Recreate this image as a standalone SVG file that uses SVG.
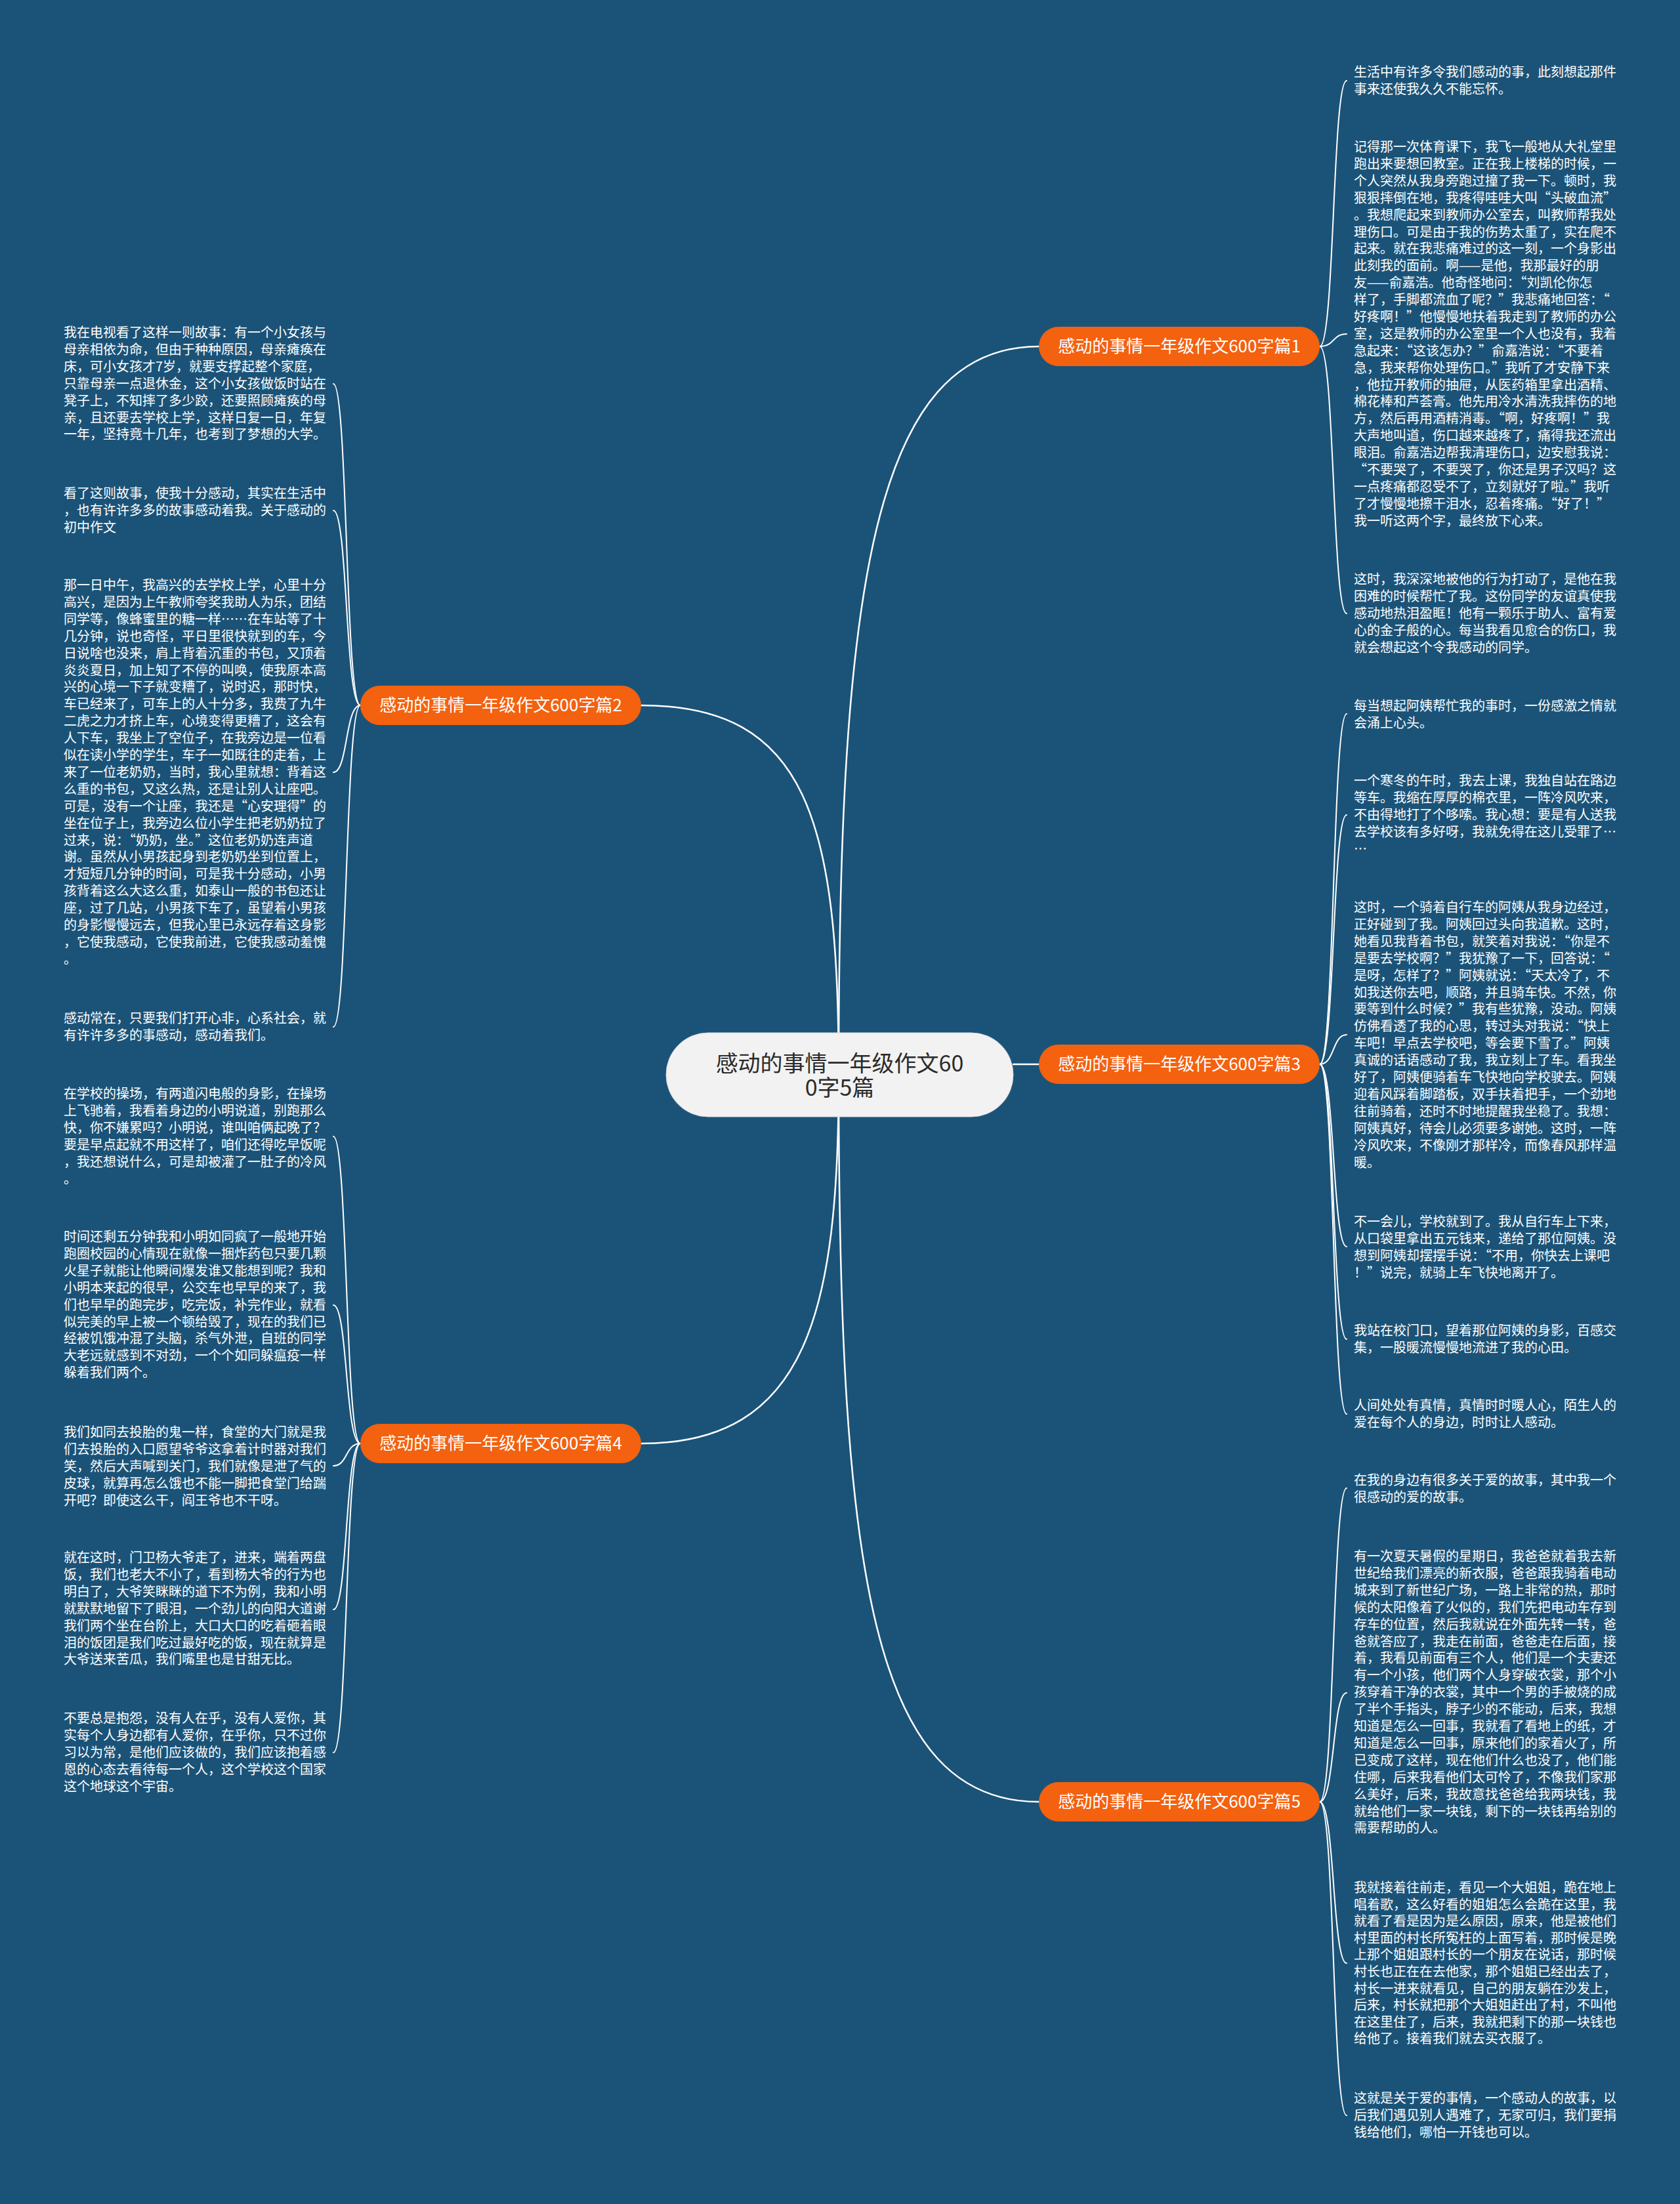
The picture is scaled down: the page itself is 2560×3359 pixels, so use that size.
<svg xmlns="http://www.w3.org/2000/svg" width="2560" height="3359" viewBox="0 0 2560 3359">
<style>
.bg{fill:#1b5378}
.edge{fill:none;stroke:#ffffff;stroke-width:2.5;stroke-linecap:round}
.ledge{fill:none;stroke:#ffffff;stroke-width:2;stroke-linecap:round}
.root{fill:#f2f2f2;stroke:#d9d9d9;stroke-width:1}
.roott{font-family:"Noto Sans CJK SC","Liberation Sans",sans-serif;font-size:34px;fill:#2b2b2b;text-anchor:middle}
.br{fill:#f4610f}
.brt{font-family:"Noto Sans CJK SC","Liberation Sans",sans-serif;font-size:26px;fill:#ffffff;text-anchor:middle}
.leaf{font-family:"Noto Sans CJK SC","Liberation Sans",sans-serif;font-size:20px;fill:#ffffff}
</style>
<rect class="bg" x="0" y="0" width="2560" height="3359"/>

<g id="connectors">
  <path class="edge" d="M1278 1638 C1278 900 1330 528 1583 528"/>
  <path class="edge" d="M1544 1622 L1583 1622"/>
  <path class="edge" d="M1278 1638 C1278 2400 1330 2746 1583 2746"/>
  <path class="edge" d="M1278 1638 C1278 1250 1230 1075 977 1075"/>
  <path class="edge" d="M1278 1638 C1278 2000 1230 2200 977 2200"/>
  <path class="ledge" d="M2011 528 C2034 528 2030 123 2052 123"/>
  <path class="ledge" d="M2011 528 C2034 528 2030 509 2052 509"/>
  <path class="ledge" d="M2011 528 C2034 528 2030 935 2052 935"/>
  <path class="ledge" d="M2011 1622 C2034 1622 2030 1088 2052 1088"/>
  <path class="ledge" d="M2011 1622 C2034 1622 2030 1242 2052 1242"/>
  <path class="ledge" d="M2011 1622 C2034 1622 2030 1577 2052 1577"/>
  <path class="ledge" d="M2011 1622 C2034 1622 2030 1900 2052 1900"/>
  <path class="ledge" d="M2011 1622 C2034 1622 2030 2041 2052 2041"/>
  <path class="ledge" d="M2011 1622 C2034 1622 2030 2155 2052 2155"/>
  <path class="ledge" d="M2011 2746 C2034 2746 2030 2268 2052 2268"/>
  <path class="ledge" d="M2011 2746 C2034 2746 2030 2580 2052 2580"/>
  <path class="ledge" d="M2011 2746 C2034 2746 2030 2992 2052 2992"/>
  <path class="ledge" d="M2011 2746 C2034 2746 2030 3224 2052 3224"/>
  <path class="ledge" d="M549 1075 C526 1075 530 585 508 585"/>
  <path class="ledge" d="M549 1075 C526 1075 530 778 508 778"/>
  <path class="ledge" d="M549 1075 C526 1075 530 1177 508 1177"/>
  <path class="ledge" d="M549 1075 C526 1075 530 1565 508 1565"/>
  <path class="ledge" d="M549 2200 C526 2200 530 1732 508 1732"/>
  <path class="ledge" d="M549 2200 C526 2200 530 1989 508 1989"/>
  <path class="ledge" d="M549 2200 C526 2200 530 2234 508 2234"/>
  <path class="ledge" d="M549 2200 C526 2200 530 2453 508 2453"/>
  <path class="ledge" d="M549 2200 C526 2200 530 2671 508 2671"/>
</g>

<g id="root">
  <rect class="root" x="1015" y="1574" width="529" height="128" rx="64" ry="64"/>
  <text class="roott" x="1279.5" y="1633"><tspan x="1279.5">感动的事情一年级作文60</tspan><tspan x="1279.5" dy="37">0字5篇</tspan></text>
</g>

<g id="branch1">
  <rect class="br" x="1583" y="498" width="428" height="60" rx="30" ry="30"/>
  <text class="brt" x="1797" y="537">感动的事情一年级作文600字篇1</text>
</g>
<g id="branch3">
  <rect class="br" x="1583" y="1592" width="428" height="60" rx="30" ry="30"/>
  <text class="brt" x="1797" y="1631">感动的事情一年级作文600字篇3</text>
</g>
<g id="branch5">
  <rect class="br" x="1583" y="2716" width="428" height="60" rx="30" ry="30"/>
  <text class="brt" x="1797" y="2755">感动的事情一年级作文600字篇5</text>
</g>
<g id="branch2">
  <rect class="br" x="549" y="1045" width="428" height="60" rx="30" ry="30"/>
  <text class="brt" x="763" y="1084">感动的事情一年级作文600字篇2</text>
</g>
<g id="branch4">
  <rect class="br" x="549" y="2170" width="428" height="60" rx="30" ry="30"/>
  <text class="brt" x="763" y="2209">感动的事情一年级作文600字篇4</text>
</g>

<g id="leaf1a"><text class="leaf" x="2063" y="117"><tspan x="2063">生活中有许多令我们感动的事，此刻想起那件</tspan><tspan x="2063" dy="25.9">事来还使我久久不能忘怀。</tspan></text></g>

<g id="leaf1b"><text class="leaf" x="2063" y="231"><tspan x="2063">记得那一次体育课下，我飞一般地从大礼堂里</tspan><tspan x="2063" dy="25.9">跑出来要想回教室。正在我上楼梯的时候，一</tspan><tspan x="2063" dy="25.9">个人突然从我身旁跑过撞了我一下。顿时，我</tspan><tspan x="2063" dy="25.9">狠狠摔倒在地，我疼得哇哇大叫“头破血流”</tspan><tspan x="2063" dy="25.9">。我想爬起来到教师办公室去，叫教师帮我处</tspan><tspan x="2063" dy="25.9">理伤口。可是由于我的伤势太重了，实在爬不</tspan><tspan x="2063" dy="25.9">起来。就在我悲痛难过的这一刻，一个身影出</tspan><tspan x="2063" dy="25.9">此刻我的面前。啊——是他，我那最好的朋</tspan><tspan x="2063" dy="25.9">友——俞嘉浩。他奇怪地问：“刘凯伦你怎</tspan><tspan x="2063" dy="25.9">样了，手脚都流血了呢？”我悲痛地回答：“</tspan><tspan x="2063" dy="25.9">好疼啊！”他慢慢地扶着我走到了教师的办公</tspan><tspan x="2063" dy="25.9">室，这是教师的办公室里一个人也没有，我着</tspan><tspan x="2063" dy="25.9">急起来：“这该怎办？”俞嘉浩说：“不要着</tspan><tspan x="2063" dy="25.9">急，我来帮你处理伤口。”我听了才安静下来</tspan><tspan x="2063" dy="25.9">，他拉开教师的抽屉，从医药箱里拿出酒精、</tspan><tspan x="2063" dy="25.9">棉花棒和芦荟膏。他先用冷水清洗我摔伤的地</tspan><tspan x="2063" dy="25.9">方，然后再用酒精消毒。“啊，好疼啊！”我</tspan><tspan x="2063" dy="25.9">大声地叫道，伤口越来越疼了，痛得我还流出</tspan><tspan x="2063" dy="25.9">眼泪。俞嘉浩边帮我清理伤口，边安慰我说：</tspan><tspan x="2063" dy="25.9">“不要哭了，不要哭了，你还是男子汉吗？这</tspan><tspan x="2063" dy="25.9">一点疼痛都忍受不了，立刻就好了啦。”我听</tspan><tspan x="2063" dy="25.9">了才慢慢地擦干泪水，忍着疼痛。“好了！”</tspan><tspan x="2063" dy="25.9">我一听这两个字，最终放下心来。</tspan></text></g>

<g id="leaf1c"><text class="leaf" x="2063" y="890"><tspan x="2063">这时，我深深地被他的行为打动了，是他在我</tspan><tspan x="2063" dy="25.9">困难的时候帮忙了我。这份同学的友谊真使我</tspan><tspan x="2063" dy="25.9">感动地热泪盈眶！他有一颗乐于助人、富有爱</tspan><tspan x="2063" dy="25.9">心的金子般的心。每当我看见愈合的伤口，我</tspan><tspan x="2063" dy="25.9">就会想起这个令我感动的同学。</tspan></text></g>

<g id="leaf3a"><text class="leaf" x="2063" y="1083"><tspan x="2063">每当想起阿姨帮忙我的事时，一份感激之情就</tspan><tspan x="2063" dy="25.9">会涌上心头。</tspan></text></g>

<g id="leaf3b"><text class="leaf" x="2063" y="1197"><tspan x="2063">一个寒冬的午时，我去上课，我独自站在路边</tspan><tspan x="2063" dy="25.9">等车。我缩在厚厚的棉衣里，一阵冷风吹来，</tspan><tspan x="2063" dy="25.9">不由得地打了个哆嗦。我心想：要是有人送我</tspan><tspan x="2063" dy="25.9">去学校该有多好呀，我就免得在这儿受罪了…</tspan><tspan x="2063" dy="25.9">…</tspan></text></g>

<g id="leaf3c"><text class="leaf" x="2063" y="1390"><tspan x="2063">这时，一个骑着自行车的阿姨从我身边经过，</tspan><tspan x="2063" dy="25.9">正好碰到了我。阿姨回过头向我道歉。这时，</tspan><tspan x="2063" dy="25.9">她看见我背着书包，就笑着对我说：“你是不</tspan><tspan x="2063" dy="25.9">是要去学校啊？”我犹豫了一下，回答说：“</tspan><tspan x="2063" dy="25.9">是呀，怎样了？”阿姨就说：“天太冷了，不</tspan><tspan x="2063" dy="25.9">如我送你去吧，顺路，并且骑车快。不然，你</tspan><tspan x="2063" dy="25.9">要等到什么时候？”我有些犹豫，没动。阿姨</tspan><tspan x="2063" dy="25.9">仿佛看透了我的心思，转过头对我说：“快上</tspan><tspan x="2063" dy="25.9">车吧！早点去学校吧，等会要下雪了。”阿姨</tspan><tspan x="2063" dy="25.9">真诚的话语感动了我，我立刻上了车。看我坐</tspan><tspan x="2063" dy="25.9">好了，阿姨便骑着车飞快地向学校驶去。阿姨</tspan><tspan x="2063" dy="25.9">迎着风踩着脚踏板，双手扶着把手，一个劲地</tspan><tspan x="2063" dy="25.9">往前骑着，还时不时地提醒我坐稳了。我想：</tspan><tspan x="2063" dy="25.9">阿姨真好，待会儿必须要多谢她。这时，一阵</tspan><tspan x="2063" dy="25.9">冷风吹来，不像刚才那样冷，而像春风那样温</tspan><tspan x="2063" dy="25.9">暖。</tspan></text></g>

<g id="leaf3d"><text class="leaf" x="2063" y="1869"><tspan x="2063">不一会儿，学校就到了。我从自行车上下来，</tspan><tspan x="2063" dy="25.9">从口袋里拿出五元钱来，递给了那位阿姨。没</tspan><tspan x="2063" dy="25.9">想到阿姨却摆摆手说：“不用，你快去上课吧</tspan><tspan x="2063" dy="25.9">！”说完，就骑上车飞快地离开了。</tspan></text></g>

<g id="leaf3e"><text class="leaf" x="2063" y="2035"><tspan x="2063">我站在校门口，望着那位阿姨的身影，百感交</tspan><tspan x="2063" dy="25.9">集，一股暖流慢慢地流进了我的心田。</tspan></text></g>

<g id="leaf3f"><text class="leaf" x="2063" y="2149"><tspan x="2063">人间处处有真情，真情时时暖人心，陌生人的</tspan><tspan x="2063" dy="25.9">爱在每个人的身边，时时让人感动。</tspan></text></g>

<g id="leaf5a"><text class="leaf" x="2063" y="2263"><tspan x="2063">在我的身边有很多关于爱的故事，其中我一个</tspan><tspan x="2063" dy="25.9">很感动的爱的故事。</tspan></text></g>

<g id="leaf5b"><text class="leaf" x="2063" y="2379"><tspan x="2063">有一次夏天暑假的星期日，我爸爸就着我去新</tspan><tspan x="2063" dy="25.9">世纪给我们漂亮的新衣服，爸爸跟我骑着电动</tspan><tspan x="2063" dy="25.9">城来到了新世纪广场，一路上非常的热，那时</tspan><tspan x="2063" dy="25.9">候的太阳像着了火似的，我们先把电动车存到</tspan><tspan x="2063" dy="25.9">存车的位置，然后我就说在外面先转一转，爸</tspan><tspan x="2063" dy="25.9">爸就答应了，我走在前面，爸爸走在后面，接</tspan><tspan x="2063" dy="25.9">着，我看见前面有三个人，他们是一个夫妻还</tspan><tspan x="2063" dy="25.9">有一个小孩，他们两个人身穿破衣裳，那个小</tspan><tspan x="2063" dy="25.9">孩穿着干净的衣裳，其中一个男的手被烧的成</tspan><tspan x="2063" dy="25.9">了半个手指头，脖子少的不能动，后来，我想</tspan><tspan x="2063" dy="25.9">知道是怎么一回事，我就看了看地上的纸，才</tspan><tspan x="2063" dy="25.9">知道是怎么一回事，原来他们的家着火了，所</tspan><tspan x="2063" dy="25.9">已变成了这样，现在他们什么也没了，他们能</tspan><tspan x="2063" dy="25.9">住哪，后来我看他们太可怜了，不像我们家那</tspan><tspan x="2063" dy="25.9">么美好，后来，我故意找爸爸给我两块钱，我</tspan><tspan x="2063" dy="25.9">就给他们一家一块钱，剩下的一块钱再给别的</tspan><tspan x="2063" dy="25.9">需要帮助的人。</tspan></text></g>

<g id="leaf5c"><text class="leaf" x="2063" y="2884"><tspan x="2063">我就接着往前走，看见一个大姐姐，跪在地上</tspan><tspan x="2063" dy="25.6">唱着歌，这么好看的姐姐怎么会跪在这里，我</tspan><tspan x="2063" dy="25.6">就看了看是因为是么原因，原来，他是被他们</tspan><tspan x="2063" dy="25.6">村里面的村长所冤枉的上面写着，那时候是晚</tspan><tspan x="2063" dy="25.6">上那个姐姐跟村长的一个朋友在说话，那时候</tspan><tspan x="2063" dy="25.6">村长也正在在去他家，那个姐姐已经出去了，</tspan><tspan x="2063" dy="25.6">村长一进来就看见，自己的朋友躺在沙发上，</tspan><tspan x="2063" dy="25.6">后来，村长就把那个大姐姐赶出了村，不叫他</tspan><tspan x="2063" dy="25.6">在这里住了，后来，我就把剩下的那一块钱也</tspan><tspan x="2063" dy="25.6">给他了。接着我们就去买衣服了。</tspan></text></g>

<g id="leaf5d"><text class="leaf" x="2063" y="3205"><tspan x="2063">这就是关于爱的事情，一个感动人的故事，以</tspan><tspan x="2063" dy="25.9">后我们遇见别人遇难了，无家可归，我们要捐</tspan><tspan x="2063" dy="25.9">钱给他们，哪怕一开钱也可以。</tspan></text></g>

<g id="leaf2a"><text class="leaf" x="97" y="514"><tspan x="97">我在电视看了这样一则故事：有一个小女孩与</tspan><tspan x="97" dy="25.9">母亲相依为命，但由于种种原因，母亲瘫痪在</tspan><tspan x="97" dy="25.9">床，可小女孩才7岁，就要支撑起整个家庭，</tspan><tspan x="97" dy="25.9">只靠母亲一点退休金，这个小女孩做饭时站在</tspan><tspan x="97" dy="25.9">凳子上，不知摔了多少跤，还要照顾瘫痪的母</tspan><tspan x="97" dy="25.9">亲，且还要去学校上学，这样日复一日，年复</tspan><tspan x="97" dy="25.9">一年，坚持竟十几年，也考到了梦想的大学。</tspan></text></g>

<g id="leaf2b"><text class="leaf" x="97" y="759"><tspan x="97">看了这则故事，使我十分感动，其实在生活中</tspan><tspan x="97" dy="25.9">，也有许许多多的故事感动着我。关于感动的</tspan><tspan x="97" dy="25.9">初中作文</tspan></text></g>

<g id="leaf2c"><text class="leaf" x="97" y="899"><tspan x="97">那一日中午，我高兴的去学校上学，心里十分</tspan><tspan x="97" dy="25.9">高兴，是因为上午教师夸奖我助人为乐，团结</tspan><tspan x="97" dy="25.9">同学等，像蜂蜜里的糖一样……在车站等了十</tspan><tspan x="97" dy="25.9">几分钟，说也奇怪，平日里很快就到的车，今</tspan><tspan x="97" dy="25.9">日说啥也没来，肩上背着沉重的书包，又顶着</tspan><tspan x="97" dy="25.9">炎炎夏日，加上知了不停的叫唤，使我原本高</tspan><tspan x="97" dy="25.9">兴的心境一下子就变糟了，说时迟，那时快，</tspan><tspan x="97" dy="25.9">车已经来了，可车上的人十分多，我费了九牛</tspan><tspan x="97" dy="25.9">二虎之力才挤上车，心境变得更糟了，这会有</tspan><tspan x="97" dy="25.9">人下车，我坐上了空位子，在我旁边是一位看</tspan><tspan x="97" dy="25.9">似在读小学的学生，车子一如既往的走着，上</tspan><tspan x="97" dy="25.9">来了一位老奶奶，当时，我心里就想：背着这</tspan><tspan x="97" dy="25.9">么重的书包，又这么热，还是让别人让座吧。</tspan><tspan x="97" dy="25.9">可是，没有一个让座，我还是“心安理得”的</tspan><tspan x="97" dy="25.9">坐在位子上，我旁边么位小学生把老奶奶拉了</tspan><tspan x="97" dy="25.9">过来，说：“奶奶，坐。”这位老奶奶连声道</tspan><tspan x="97" dy="25.9">谢。虽然从小男孩起身到老奶奶坐到位置上，</tspan><tspan x="97" dy="25.9">才短短几分钟的时间，可是我十分感动，小男</tspan><tspan x="97" dy="25.9">孩背着这么大这么重，如泰山一般的书包还让</tspan><tspan x="97" dy="25.9">座，过了几站，小男孩下车了，虽望着小男孩</tspan><tspan x="97" dy="25.9">的身影慢慢远去，但我心里已永远存着这身影</tspan><tspan x="97" dy="25.9">，它使我感动，它使我前进，它使我感动羞愧</tspan><tspan x="97" dy="25.9">。</tspan></text></g>

<g id="leaf2d"><text class="leaf" x="97" y="1559"><tspan x="97">感动常在，只要我们打开心非，心系社会，就</tspan><tspan x="97" dy="25.9">有许许多多的事感动，感动着我们。</tspan></text></g>

<g id="leaf4a"><text class="leaf" x="97" y="1674"><tspan x="97">在学校的操场，有两道闪电般的身影，在操场</tspan><tspan x="97" dy="25.9">上飞驰着，我看着身边的小明说道，别跑那么</tspan><tspan x="97" dy="25.9">快，你不嫌累吗？小明说，谁叫咱俩起晚了？</tspan><tspan x="97" dy="25.9">要是早点起就不用这样了，咱们还得吃早饭呢</tspan><tspan x="97" dy="25.9">，我还想说什么，可是却被灌了一肚子的冷风</tspan><tspan x="97" dy="25.9">。</tspan></text></g>

<g id="leaf4b"><text class="leaf" x="97" y="1892"><tspan x="97">时间还剩五分钟我和小明如同疯了一般地开始</tspan><tspan x="97" dy="25.9">跑圈校园的心情现在就像一捆炸药包只要几颗</tspan><tspan x="97" dy="25.9">火星子就能让他瞬间爆发谁又能想到呢？我和</tspan><tspan x="97" dy="25.9">小明本来起的很早，公交车也早早的来了，我</tspan><tspan x="97" dy="25.9">们也早早的跑完步，吃完饭，补完作业，就看</tspan><tspan x="97" dy="25.9">似完美的早上被一个顿给毁了，现在的我们已</tspan><tspan x="97" dy="25.9">经被饥饿冲混了头脑，杀气外泄，自班的同学</tspan><tspan x="97" dy="25.9">大老远就感到不对劲，一个个如同躲瘟疫一样</tspan><tspan x="97" dy="25.9">躲着我们两个。</tspan></text></g>

<g id="leaf4c"><text class="leaf" x="97" y="2190"><tspan x="97">我们如同去投胎的鬼一样，食堂的大门就是我</tspan><tspan x="97" dy="25.9">们去投胎的入口愿望爷爷这拿着计时器对我们</tspan><tspan x="97" dy="25.9">笑，然后大声喊到关门，我们就像是泄了气的</tspan><tspan x="97" dy="25.9">皮球，就算再怎么饿也不能一脚把食堂门给踹</tspan><tspan x="97" dy="25.9">开吧？即使这么干，阎王爷也不干呀。</tspan></text></g>

<g id="leaf4d"><text class="leaf" x="97" y="2381"><tspan x="97">就在这时，门卫杨大爷走了，进来，端着两盘</tspan><tspan x="97" dy="25.9">饭，我们也老大不小了，看到杨大爷的行为也</tspan><tspan x="97" dy="25.9">明白了，大爷笑眯眯的道下不为例，我和小明</tspan><tspan x="97" dy="25.9">就默默地留下了眼泪，一个劲儿的向阳大道谢</tspan><tspan x="97" dy="25.9">我们两个坐在台阶上，大口大口的吃着砸着眼</tspan><tspan x="97" dy="25.9">泪的饭团是我们吃过最好吃的饭，现在就算是</tspan><tspan x="97" dy="25.9">大爷送来苦瓜，我们嘴里也是甘甜无比。</tspan></text></g>

<g id="leaf4e"><text class="leaf" x="97" y="2626"><tspan x="97">不要总是抱怨，没有人在乎，没有人爱你，其</tspan><tspan x="97" dy="25.9">实每个人身边都有人爱你，在乎你，只不过你</tspan><tspan x="97" dy="25.9">习以为常，是他们应该做的，我们应该抱着感</tspan><tspan x="97" dy="25.9">恩的心态去看待每一个人，这个学校这个国家</tspan><tspan x="97" dy="25.9">这个地球这个宇宙。</tspan></text></g>
</svg>
